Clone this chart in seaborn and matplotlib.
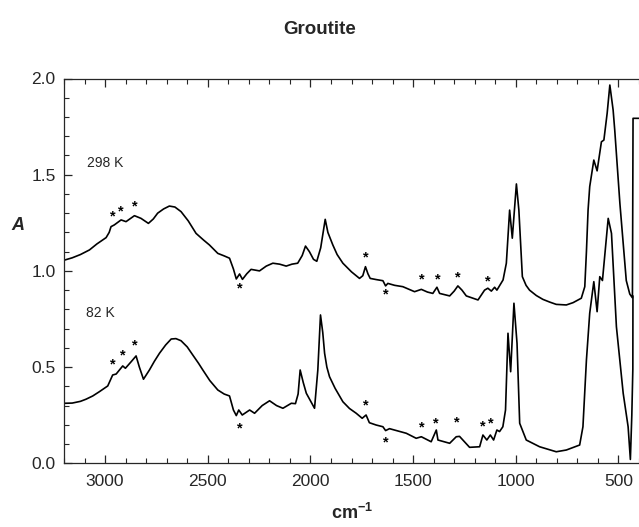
import matplotlib
matplotlib.use("Agg")
import matplotlib.pyplot as plt
from matplotlib.ticker import MultipleLocator
import seaborn as sns
import pandas as pd

# ---- data ----
wn_298 = [3195, 3160, 3120, 3076, 3040, 2995, 2980, 2971, 2955, 2922, 2898, 2857, 2825, 2789, 2765, 2744,
          2715, 2687, 2660, 2630, 2595, 2557, 2520, 2492, 2451, 2420, 2394, 2375, 2361, 2345, 2331, 2310,
          2289, 2248, 2215, 2183, 2150, 2118, 2090, 2062, 2040, 2024, 2005, 1985, 1969, 1950, 1928, 1915,
          1891, 1870, 1842, 1800, 1761, 1745, 1732, 1720, 1709, 1680, 1647, 1634, 1623, 1590, 1550, 1493,
          1460, 1430, 1404, 1384, 1371, 1322, 1300, 1282, 1262, 1241, 1184, 1152, 1136, 1119, 1103, 1092,
          1062, 1046, 1030, 1017, 997, 985, 968, 950, 933, 900, 868, 835, 803, 754, 721, 681, 664, 656,
          648, 640, 620, 604, 583, 571, 555, 542, 526, 518, 493, 462, 445, 432, 429, 401]
a_298 = [1.057, 1.068, 1.085, 1.109, 1.140, 1.173, 1.200, 1.230, 1.239, 1.265, 1.256, 1.287, 1.273, 1.247, 1.270, 1.300,
         1.322, 1.337, 1.332, 1.308, 1.260, 1.195, 1.160, 1.135, 1.091, 1.078, 1.066, 1.010, 0.958, 0.984, 0.956, 0.985,
         1.008, 1.000, 1.025, 1.040, 1.035, 1.025, 1.035, 1.040, 1.080, 1.129, 1.100, 1.060, 1.050, 1.120, 1.268, 1.200,
         1.135, 1.085, 1.040, 0.995, 0.961, 0.975, 1.022, 0.985, 0.961, 0.955, 0.949, 0.922, 0.935, 0.925, 0.918, 0.892,
         0.904, 0.890, 0.883, 0.915, 0.883, 0.870, 0.895, 0.922, 0.900, 0.870, 0.849, 0.900, 0.910, 0.895, 0.915, 0.900,
         0.953, 1.040, 1.316, 1.170, 1.452, 1.316, 0.970, 0.925, 0.900, 0.872, 0.852, 0.838, 0.826, 0.823, 0.835, 0.858, 0.918, 1.100,
         1.316, 1.438, 1.576, 1.520, 1.671, 1.680, 1.820, 1.966, 1.836, 1.730, 1.350, 0.950, 0.880, 0.860, 1.793, 1.793]

wn_82 = [3195, 3160, 3120, 3093, 3060, 3028, 2987, 2963, 2946, 2930, 2914, 2901, 2873, 2849, 2833, 2813,
         2784, 2760, 2735, 2705, 2678, 2655, 2630, 2600, 2573, 2545, 2524, 2490, 2451, 2420, 2394, 2375,
         2361, 2349, 2332, 2296, 2272, 2235, 2199, 2165, 2134, 2093, 2073, 2060, 2050, 2035, 2020, 1980,
         1964, 1951, 1940, 1931, 1920, 1907, 1880, 1842, 1810, 1777, 1748, 1729, 1713, 1680, 1647, 1634,
         1615, 1533, 1485, 1460, 1412, 1387, 1379, 1322, 1290, 1274, 1225, 1176, 1160, 1141, 1124, 1108,
         1092, 1079, 1063, 1050, 1038, 1025, 1009, 994, 981, 949, 884, 803, 754, 689, 673, 656, 640, 620,
         604, 591, 578, 565, 550, 534, 510, 477, 453, 442, 435, 430, 429.5]
a_82 = [0.312, 0.313, 0.322, 0.333, 0.350, 0.372, 0.402, 0.459, 0.464, 0.485, 0.506, 0.494, 0.528, 0.558, 0.500, 0.437,
        0.485, 0.530, 0.572, 0.615, 0.646, 0.648, 0.637, 0.605, 0.563, 0.520, 0.485, 0.430, 0.381, 0.360, 0.350, 0.277,
        0.248, 0.277, 0.251, 0.277, 0.260, 0.300, 0.325, 0.300, 0.286, 0.312, 0.310, 0.360, 0.485, 0.420, 0.364, 0.286,
        0.485, 0.771, 0.680, 0.572, 0.500, 0.450, 0.390, 0.320, 0.285, 0.260, 0.234, 0.251, 0.211, 0.199, 0.190, 0.170,
        0.180, 0.156, 0.130, 0.138, 0.112, 0.173, 0.121, 0.104, 0.138, 0.140, 0.083, 0.086, 0.147, 0.121, 0.147, 0.121,
        0.173, 0.165, 0.190, 0.277, 0.676, 0.476, 0.832, 0.624, 0.208, 0.121, 0.086, 0.060, 0.069, 0.095, 0.190, 0.537, 0.780, 0.944,
        0.788, 0.970, 0.950, 1.100, 1.273, 1.195, 0.710, 0.364, 0.190, 0.020, 0.250, 0.490, 0.870]

# asterisk marks (wavenumber, absorbance)
star_wn_298 = [2962, 2925, 2855, 2345, 1730, 1634, 1460, 1381, 1282, 1135]
star_a_298 = [1.283, 1.308, 1.334, 0.910, 1.069, 0.875, 0.953, 0.953, 0.965, 0.944]
star_wn_82 = [2962, 2916, 2855, 2342, 1732, 1631, 1460, 1389, 1287, 1160, 1124]
star_a_82 = [0.516, 0.559, 0.615, 0.182, 0.299, 0.109, 0.186, 0.208, 0.211, 0.190, 0.208]

labels = ["298 K", "82 K"]
label_wn = [3086, 3093]
label_a = [1.56, 0.78]

df = pd.concat([
    pd.DataFrame({"wn": wn_298, "A": a_298, "T": "298 K"}),
    pd.DataFrame({"wn": wn_82, "A": a_82, "T": "82 K"}),
])

sns.set_style("ticks")
plt.rcParams["font.family"] = ["Liberation Sans", "DejaVu Sans"]
plt.rcParams["mathtext.fontset"] = "custom"
plt.rcParams["mathtext.rm"] = "Liberation Sans"
plt.rcParams["mathtext.bf"] = "Liberation Sans:bold"

fig = plt.figure(figsize=(6.39, 5.27), dpi=100)
ax = fig.add_axes([64 / 639, 1 - 463.3 / 527, 1 - 64 / 639, (463.3 - 78.5) / 527])

sns.lineplot(data=df, x="wn", y="A", units="T", estimator=None, color="black",
             linewidth=1.2, ax=ax, sort=True)

for w, a in zip(star_wn_298 + star_wn_82, star_a_298 + star_a_82):
    ax.text(w, a, "*", ha="center", va="center", fontsize=10.5, fontweight="bold", color="black")

for t, w, a in zip(labels, label_wn, label_a):
    ax.text(w, a, t, ha="left", va="center", fontsize=10)

ax.set_xlim(3200, 400)
ax.set_ylim(0, 2.0)
ax.xaxis.set_major_locator(MultipleLocator(500))
ax.xaxis.set_minor_locator(MultipleLocator(100))
ax.yaxis.set_major_locator(MultipleLocator(0.5))
ax.yaxis.set_minor_locator(MultipleLocator(0.1))
ax.tick_params(axis="x", which="both", direction="in", top=True, bottom=True, labelsize=12.5, pad=8)
ax.tick_params(axis="y", which="both", direction="in", left=True, right=False, labelsize=12.5, pad=6)
ax.tick_params(which="major", length=6, width=0.9)
ax.tick_params(which="minor", length=3.5, width=0.8)
ax.spines["right"].set_visible(False)
for s in ["left", "bottom", "top"]:
    ax.spines[s].set_linewidth(0.9)
ax.set_xlabel("")
ax.set_ylabel("")

fig.text(0.5, 1 - 30 / 527, "Groutite", ha="center", va="center", fontsize=13.5, fontweight="bold")
fig.text(352 / 639, 1 - 513 / 527, r"$\mathbf{cm^{-1}}$", ha="center", va="center", fontsize=13)
fig.text(18 / 639, 1 - 225 / 527, "A", ha="center", va="center", fontsize=13,
         fontweight="bold", fontstyle="italic")

fig.savefig("out.png", dpi=100)
